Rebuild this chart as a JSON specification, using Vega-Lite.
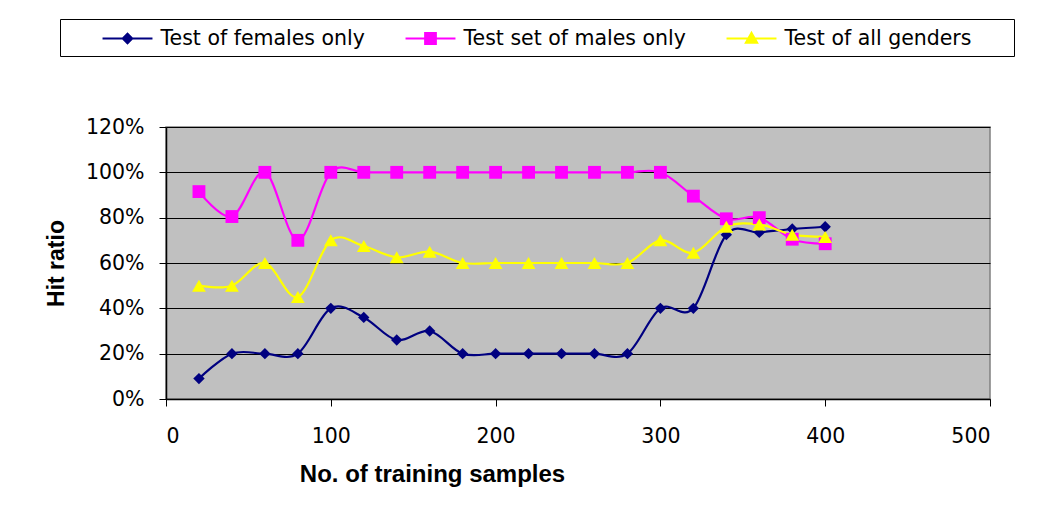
{
  "$schema": "https://vega.github.io/schema/vega-lite/v6.json",
  "width": 824,
  "height": 272,
  "autosize": {"type": "none"},
  "padding": {"left": 166, "top": 127, "right": 62, "bottom": 128},
  "background": "white",
  "config": {
    "view": {"fill": "#C0C0C0", "stroke": "#808080", "strokeWidth": 1.5}
  },
  "data": {
    "values": [
      {"samples": 20, "series": "Test of females only", "hit": 0.09},
      {"samples": 40, "series": "Test of females only", "hit": 0.20},
      {"samples": 60, "series": "Test of females only", "hit": 0.20},
      {"samples": 80, "series": "Test of females only", "hit": 0.20},
      {"samples": 100, "series": "Test of females only", "hit": 0.40},
      {"samples": 120, "series": "Test of females only", "hit": 0.36},
      {"samples": 140, "series": "Test of females only", "hit": 0.26},
      {"samples": 160, "series": "Test of females only", "hit": 0.30},
      {"samples": 180, "series": "Test of females only", "hit": 0.20},
      {"samples": 200, "series": "Test of females only", "hit": 0.20},
      {"samples": 220, "series": "Test of females only", "hit": 0.20},
      {"samples": 240, "series": "Test of females only", "hit": 0.20},
      {"samples": 260, "series": "Test of females only", "hit": 0.20},
      {"samples": 280, "series": "Test of females only", "hit": 0.20},
      {"samples": 300, "series": "Test of females only", "hit": 0.40},
      {"samples": 320, "series": "Test of females only", "hit": 0.40},
      {"samples": 340, "series": "Test of females only", "hit": 0.725},
      {"samples": 360, "series": "Test of females only", "hit": 0.735},
      {"samples": 380, "series": "Test of females only", "hit": 0.75},
      {"samples": 400, "series": "Test of females only", "hit": 0.76},
      {"samples": 20, "series": "Test set of males only", "hit": 0.915},
      {"samples": 40, "series": "Test set of males only", "hit": 0.805},
      {"samples": 60, "series": "Test set of males only", "hit": 1.0},
      {"samples": 80, "series": "Test set of males only", "hit": 0.70},
      {"samples": 100, "series": "Test set of males only", "hit": 1.0},
      {"samples": 120, "series": "Test set of males only", "hit": 1.0},
      {"samples": 140, "series": "Test set of males only", "hit": 1.0},
      {"samples": 160, "series": "Test set of males only", "hit": 1.0},
      {"samples": 180, "series": "Test set of males only", "hit": 1.0},
      {"samples": 200, "series": "Test set of males only", "hit": 1.0},
      {"samples": 220, "series": "Test set of males only", "hit": 1.0},
      {"samples": 240, "series": "Test set of males only", "hit": 1.0},
      {"samples": 260, "series": "Test set of males only", "hit": 1.0},
      {"samples": 280, "series": "Test set of males only", "hit": 1.0},
      {"samples": 300, "series": "Test set of males only", "hit": 1.0},
      {"samples": 320, "series": "Test set of males only", "hit": 0.895},
      {"samples": 340, "series": "Test set of males only", "hit": 0.795},
      {"samples": 360, "series": "Test set of males only", "hit": 0.80},
      {"samples": 380, "series": "Test set of males only", "hit": 0.705},
      {"samples": 400, "series": "Test set of males only", "hit": 0.685},
      {"samples": 20, "series": "Test of all genders", "hit": 0.50},
      {"samples": 40, "series": "Test of all genders", "hit": 0.50},
      {"samples": 60, "series": "Test of all genders", "hit": 0.60},
      {"samples": 80, "series": "Test of all genders", "hit": 0.45},
      {"samples": 100, "series": "Test of all genders", "hit": 0.70},
      {"samples": 120, "series": "Test of all genders", "hit": 0.675},
      {"samples": 140, "series": "Test of all genders", "hit": 0.625},
      {"samples": 160, "series": "Test of all genders", "hit": 0.65},
      {"samples": 180, "series": "Test of all genders", "hit": 0.60},
      {"samples": 200, "series": "Test of all genders", "hit": 0.60},
      {"samples": 220, "series": "Test of all genders", "hit": 0.60},
      {"samples": 240, "series": "Test of all genders", "hit": 0.60},
      {"samples": 260, "series": "Test of all genders", "hit": 0.60},
      {"samples": 280, "series": "Test of all genders", "hit": 0.60},
      {"samples": 300, "series": "Test of all genders", "hit": 0.70},
      {"samples": 320, "series": "Test of all genders", "hit": 0.645},
      {"samples": 340, "series": "Test of all genders", "hit": 0.76},
      {"samples": 360, "series": "Test of all genders", "hit": 0.77},
      {"samples": 380, "series": "Test of all genders", "hit": 0.725},
      {"samples": 400, "series": "Test of all genders", "hit": 0.715}
    ]
  },
  "encoding": {
    "x": {
      "field": "samples",
      "type": "quantitative",
      "scale": {"domain": [0, 500], "nice": false, "zero": true},
      "axis": {
        "values": [0, 100, 200, 300, 400, 500],
        "format": "d",
        "grid": false,
        "domainColor": "black",
        "domainWidth": 1.5,
        "tickColor": "black",
        "tickWidth": 1,
        "tickSize": 7,
        "labelFont": "DejaVu Sans",
        "labelFontSize": 20.5,
        "labelColor": "black",
        "labelPadding": 20,
        "title": "No. of training samples",
        "titleFont": "Liberation Sans",
        "titleFontSize": 24,
        "titleFontWeight": "bold",
        "titleColor": "black",
        "titleX": 266,
        "titleY": 75,
        "titleBaseline": "middle",
        "titleAlign": "center"
      }
    },
    "y": {
      "field": "hit",
      "type": "quantitative",
      "scale": {"domain": [0, 1.2], "nice": false},
      "axis": {
        "values": [0, 0.2, 0.4, 0.6, 0.8, 1.0, 1.2],
        "format": ".0%",
        "grid": true,
        "gridColor": "black",
        "gridWidth": 1,
        "gridOpacity": 1,
        "domainColor": "black",
        "domainWidth": 1.5,
        "tickColor": "black",
        "tickWidth": 1,
        "tickSize": 7,
        "labelFont": "DejaVu Sans",
        "labelFontSize": 20.5,
        "labelColor": "black",
        "labelPadding": 15,
        "title": "Hit ratio",
        "titleFont": "Liberation Sans",
        "titleFontSize": 23,
        "titleFontWeight": "bold",
        "titleColor": "black",
        "titleX": -110,
        "titleY": 136,
        "titleBaseline": "middle",
        "titleAlign": "center",
        "titleAngle": -90
      }
    }
  },
  "layer": [
    {
      "mark": {"type": "line", "interpolate": "cardinal", "tension": 0, "strokeWidth": 2.2},
      "encoding": {
        "color": {
          "field": "series",
          "type": "nominal",
          "scale": {
            "domain": ["Test of females only", "Test set of males only", "Test of all genders"],
            "range": ["#000080", "#FF00FF", "#FFFF00"]
          },
          "legend": {
            "title": null,
            "orient": "none",
            "legendX": -106,
            "legendY": -108,
            "direction": "horizontal",
            "strokeColor": "black",
            "fillColor": "white",
            "padding": 7,
            "labelFont": "DejaVu Sans",
            "labelFontSize": 20.5,
            "labelColor": "black",
            "labelLimit": 500,
            "symbolSize": 484,
            "symbolStrokeWidth": 2.5,
            "symbolOffset": 48,
            "labelOffset": 20.5,
            "columnPadding": 0,
            "encode": {
              "symbols": {
                "update": {
                  "shape": {"signal": "datum.value === 'Test of females only' ? 'M-5.48,0M-2.27,0H2.27M0,-0.42L0.42,0L0,0.42L-0.42,0Z' : datum.value === 'Test set of males only' ? 'M-5.48,0M-2.27,0H2.27M-0.48,-0.48H0.48V0.48H-0.48Z' : 'M-5.48,0M22.8,0M-2.27,0H2.27M0,-0.5L0.5,0.38L-0.5,0.38Z'"},
                  "fill": {"signal": "datum.value === 'Test of females only' ? '#000080' : datum.value === 'Test set of males only' ? '#FF00FF' : '#FFFF00'"},
                  "stroke": {"signal": "datum.value === 'Test of females only' ? '#000080' : datum.value === 'Test set of males only' ? '#FF00FF' : '#FFFF00'"},
                  "strokeWidth": {"value": 2.2},
                  "size": {"value": 484},
                  "opacity": {"value": 1}
                }
              }
            }
          }
        }
      }
    },
    {
      "transform": [{"filter": "datum.series === 'Test of females only'"}],
      "mark": {"type": "point", "filled": true, "opacity": 1, "shape": "diamond", "size": 130, "color": "#000080"}
    },
    {
      "transform": [{"filter": "datum.series === 'Test set of males only'"}],
      "mark": {"type": "point", "filled": true, "opacity": 1, "shape": "square", "size": 165, "color": "#FF00FF"}
    },
    {
      "transform": [{"filter": "datum.series === 'Test of all genders'"}],
      "mark": {"type": "point", "filled": true, "opacity": 1, "shape": "triangle-up", "size": 190, "color": "#FFFF00"}
    }
  ]
}
